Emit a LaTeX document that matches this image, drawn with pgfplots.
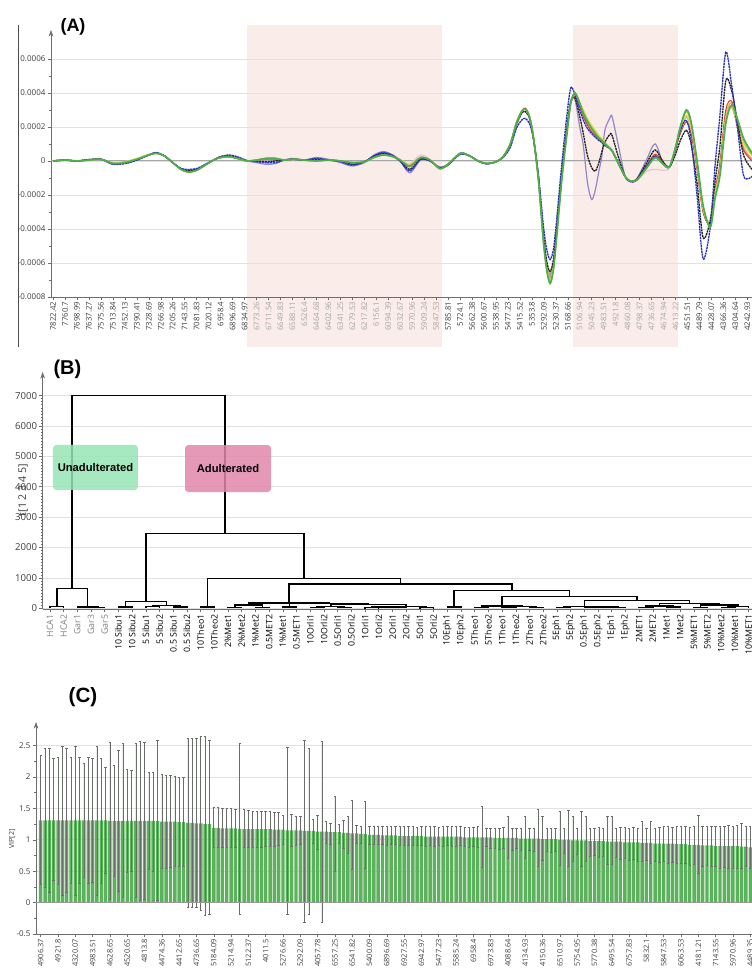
\documentclass[border=0pt]{standalone}
\usepackage{fontspec}
\setmainfont{Liberation Sans}
\newfontfamily\tickfont{Open Sans}
\usepackage{pgfplots}
\usepackage{pgfplotstable}
\pgfplotsset{compat=1.18}
\usetikzlibrary{arrows.meta}
\definecolor{gcol}{RGB}{80,175,75}
\definecolor{lgcol}{RGB}{175,215,95}
\definecolor{ycol}{RGB}{232,222,90}
\definecolor{ocol}{RGB}{240,175,95}
\definecolor{rcol}{RGB}{215,70,60}
\definecolor{pcol}{RGB}{238,190,210}
\definecolor{pucol}{RGB}{145,135,205}
\definecolor{kcol}{RGB}{35,35,35}
\definecolor{bcol}{RGB}{40,50,190}
\definecolor{pinkbg}{RGB}{250,236,232}
\definecolor{gridgray}{RGB}{225,225,225}
\definecolor{axgray}{RGB}{110,110,110}
\definecolor{labgray}{RGB}{60,60,60}
\definecolor{lab2}{RGB}{165,165,165}
\definecolor{vipgreen}{RGB}{92,178,92}
\definecolor{errgray}{RGB}{105,110,105}
\definecolor{boxg}{RGB}{150,228,180}
\definecolor{boxp}{RGB}{225,135,170}
\newcommand{\gl}[1]{\textcolor{lab2}{#1}}

\pgfplotstableread{
x G LG Y O R P PU K B
0 0 0 0 0 0 0 0 0 0
1 0.05 0.05 0.05 0.05 0.05 0.05 0.05 0.05 0.05
2 0 0 0.02 0 0 0 0 0 0
3 0.05 0.05 0.06 0.05 0.05 0.05 0.05 0.08 0.08
4 0.1 0.1 0.1 0.1 0.1 0.1 0.1 0.1 0.1
5 -0.15 -0.12 -0.1 -0.15 -0.15 -0.1 -0.2 -0.15 -0.2
6 -0.1 -0.05 -0.05 -0.1 -0.1 -0.05 -0.1 -0.15 -0.15
7 0.1 0.12 0.15 0.1 0.1 0.1 0.1 0.05 0.05
8 0.35 0.35 0.4 0.35 0.35 0.35 0.35 0.35 0.35
8.6 0.45 0.45 0.45 0.45 0.45 0.45 0.45 0.48 0.5
9.3 0.3 0.3 0.3 0.3 0.3 0.3 0.3 0.3 0.3
10 -0.1 -0.1 -0.1 -0.1 -0.1 -0.1 -0.1 -0.1 -0.1
10.7 -0.5 -0.5 -0.5 -0.5 -0.5 -0.5 -0.5 -0.45 -0.45
11.3 -0.65 -0.65 -0.65 -0.65 -0.65 -0.62 -0.6 -0.55 -0.5
12 -0.55 -0.55 -0.55 -0.55 -0.55 -0.55 -0.5 -0.5 -0.45
12.7 -0.25 -0.25 -0.25 -0.25 -0.25 -0.25 -0.25 -0.25 -0.2
13.4 0.05 0.05 0.05 0.05 0.05 0.05 0.05 0.05 0.05
14 0.2 0.2 0.2 0.2 0.2 0.2 0.2 0.25 0.25
14.7 0.25 0.25 0.25 0.25 0.25 0.25 0.25 0.32 0.35
15.4 0.15 0.15 0.15 0.15 0.15 0.15 0.15 0.2 0.25
16.2 0 0 0 0 0 0 0 0.02 0.02
17 0.05 0.05 0.05 0.05 0.05 0.05 -0.1 0 -0.05
17.8 0.15 0.15 0.15 0.12 0.1 0.1 -0.2 -0.05 -0.1
18.6 0.15 0.15 0.15 0.12 0.1 0.1 -0.15 0 -0.1
19.3 0.05 0.05 0.05 0.05 0.05 0.05 0.05 0.05 0.05
20.1 0.1 0.1 0.1 0.1 0.1 0.1 0.15 0.1 0.1
21 0.05 0.05 0.05 0.05 0.05 0.05 0.05 0.05 0.05
22 0 0 0 0 0.05 0 0.2 0.1 0.15
23 0.05 0.05 0.05 0.05 0.05 0.05 0.1 0.05 0.05
24 0 0 0 0 0 0 -0.1 0 -0.05
25 -0.1 -0.1 -0.1 -0.1 -0.12 -0.05 -0.3 -0.2 -0.25
26 -0.05 -0.05 -0.05 -0.05 -0.05 -0.05 -0.1 -0.05 -0.05
26.8 0.2 0.2 0.2 0.2 0.2 0.25 0.35 0.25 0.3
27.6 0.35 0.35 0.35 0.38 0.4 0.45 0.55 0.45 0.5
28.4 0.25 0.25 0.25 0.25 0.25 0.3 0.35 0.3 0.3
29 0.05 0.05 0.05 0 0 0.1 0 0 0
29.8 -0.3 -0.3 -0.2 -0.3 -0.35 -0.15 -0.7 -0.5 -0.6
30.7 0.2 0.2 0.2 0.2 0.2 0.35 0.05 0.1 0.1
31.5 0.05 0.05 0.05 0.05 0.05 0.1 0 0 0
32.3 -0.45 -0.45 -0.4 -0.45 -0.45 -0.5 -0.35 -0.4 -0.4
33 -0.2 -0.2 -0.2 -0.2 -0.2 -0.2 -0.2 -0.2 -0.25
33.5 0.15 0.15 0.15 0.15 0.15 0.15 0.15 0.15 0.1
34.1 0.45 0.45 0.45 0.45 0.45 0.45 0.5 0.45 0.4
34.8 0.3 0.3 0.3 0.3 0.3 0.3 0.3 0.3 0.3
35.5 0 0 0 0 0 0 0 0 0
36.2 -0.15 -0.15 -0.15 -0.15 -0.15 -0.15 -0.15 -0.15 -0.18
37 -0.05 -0.05 -0.05 -0.05 -0.05 -0.05 -0.05 -0.05 -0.05
37.6 0.25 0.25 0.25 0.25 0.25 0.25 0.25 0.25 0.2
38.2 1.0 1.0 1.0 1.0 1.0 1.0 1.0 0.95 0.8
38.7 2.2 2.2 2.2 2.2 2.25 2.2 2.2 2.1 1.9
39.15 2.9 2.9 2.9 2.9 2.95 2.9 2.9 2.8 2.4
39.45 3.05 3.05 3.05 3.05 3.1 3.05 3.1 2.9 2.5
39.8 2.6 2.6 2.6 2.6 2.65 2.6 2.6 2.5 2.2
40.13 1.4 1.4 1.4 1.4 1.4 1.4 1.4 1.3 1.3
40.55 -1.1 -1.1 -1.1 -1.05 -1.05 -1.0 -1.0 -1.0 -0.8
40.96 -4.7 -4.6 -4.6 -4.5 -4.5 -4.5 -4.5 -4.3 -3.8
41.24 -6.4 -6.3 -6.2 -6.1 -6.2 -6.0 -6.0 -5.9 -5.2
41.52 -7.2 -7.0 -7.0 -6.8 -6.9 -6.7 -6.7 -6.5 -5.8
41.8 -6.4 -6.3 -6.2 -6.1 -6.1 -6.0 -6.0 -5.8 -5.2
42.08 -4.4 -4.3 -4.2 -4.1 -4.1 -4.0 -4.0 -4.0 -3.4
42.5 -1.1 -1.0 -0.9 -0.9 -0.9 -0.8 -0.8 -0.8 -0.2
42.93 1.6 1.7 1.7 1.8 1.8 1.8 1.9 1.9 2.7
43.25 3.4 3.4 3.4 3.4 3.4 3.4 3.5 3.5 4.3
43.6 4.0 4.0 3.9 3.9 3.8 3.9 3.6 3.7 3.9
44.0 3.4 3.4 3.4 3.3 3.2 3.3 2.0 2.6 3.0
44.3 2.8 2.9 3.0 2.7 2.6 2.7 0.9 1.6 2.4
44.65 2.3 2.4 2.5 2.2 2.1 2.2 -1.3 0.3 1.9
45.0 1.9 2.0 2.1 1.8 1.7 1.6 -2.27 -0.4 1.6
45.3 1.6 1.7 1.8 1.55 1.5 1.4 -1.7 -0.6 1.4
45.6 1.35 1.4 1.5 1.3 1.3 1.2 -0.6 -0.1 1.2
45.85 1.2 1.25 1.3 1.15 1.15 1.05 0.3 0.55 1.1
46.1 1.0 1.05 1.1 1.0 1.0 0.9 1.8 1.1 0.9
46.5 0.75 0.8 0.8 0.75 0.8 0.7 2.5 1.55 0.75
46.7 0.6 0.6 0.6 0.6 0.65 0.55 2.6 1.5 0.6
47.2 -0.1 -0.1 -0.1 -0.1 -0.05 -0.15 1.0 0.3 -0.1
47.8 -0.93 -0.93 -0.93 -0.93 -0.93 -0.93 -0.93 -0.93 -0.93
48.3 -1.2 -1.2 -1.2 -1.2 -1.2 -1.2 -1.2 -1.2 -1.25
48.8 -1.1 -1.1 -1.1 -1.1 -1.05 -1.15 -1.0 -1.05 -1.1
49.6 -0.4 -0.4 -0.4 -0.3 -0.25 -0.6 0.1 -0.1 -0.3
50.3 0.2 0.15 0.25 0.35 0.4 -0.5 1.0 0.65 0.3
51.0 -0.2 -0.2 -0.2 -0.15 -0.1 -0.55 -0.2 -0.1 -0.2
51.5 -0.35 -0.35 -0.35 -0.35 -0.35 -0.4 -0.35 -0.35 -0.35
52.0 0.8 0.8 0.8 0.75 0.7 0.75 0.75 0.4 0.7
52.4 2.0 2.0 1.9 1.8 1.6 1.8 1.9 1.2 1.8
52.9 3.0 2.9 2.7 2.6 2.3 2.6 2.6 1.8 2.4
53.3 2.3 2.2 2.0 1.9 1.6 1.9 1.9 1.0 1.2
53.8 0.0 -0.1 -0.2 -0.3 -0.5 -0.3 -0.3 -1.3 -2.0
54.3 -2.6 -2.7 -2.8 -2.9 -3.0 -2.9 -2.9 -4.5 -5.75
54.9 -3.9 -3.8 -3.7 -3.6 -3.7 -3.6 -3.7 -3.5 -3.9
55.3 -2.2 -2.0 -1.9 -1.8 -1.7 -1.8 -1.8 -1.2 -0.3
55.7 -0.9 -0.7 -0.6 -0.4 -0.2 -0.4 -0.4 0.8 2.6
56.2 2.2 2.4 2.5 2.7 3.0 2.6 2.7 4.7 6.4
56.7 3.3 3.2 3.2 3.4 3.5 3.1 3.2 4.1 4.4
57.2 2.4 2.2 2.1 2.0 1.9 1.9 2.0 2.2 1.8
57.7 1.3 1.1 1.0 0.8 0.6 0.7 0.7 0.3 -0.9
58.4 0.45 0.35 0.3 0.1 0.0 0.1 0.1 -0.5 -0.9
}\specA

\pgfplotstableread{
j y ep em
0 1.31 1.03 1.02
1 1.31 1.15 1.06
2 1.31 1.15 1.14
3 1.31 0.98 0.96
4 1.31 1.01 1.02
5 1.31 1.18 1.19
6 1.31 1.15 1.15
7 1.31 1.00 1.00
8 1.31 1.18 1.19
9 1.31 1.00 1.00
10 1.31 0.91 0.90
11 1.31 1.00 1.01
12 1.31 0.99 0.98
13 1.31 1.18 1.19
14 1.31 0.99 1.00
15 1.31 0.85 0.85
16 1.30 1.25 1.24
17 1.30 0.88 0.88
18 1.30 1.12 1.12
19 1.30 1.23 1.22
20 1.30 0.82 0.82
21 1.30 0.80 0.80
22 1.30 1.23 1.22
23 1.30 1.27 1.26
24 1.30 1.25 1.25
25 1.30 0.77 0.77
26 1.30 0.78 0.80
27 1.30 1.28 1.27
28 1.29 0.76 0.75
29 1.29 0.74 0.74
30 1.29 0.73 0.73
31 1.29 0.72 0.72
32 1.28 0.72 0.71
33 1.28 0.72 0.70
34 1.27 1.35 1.34
35 1.27 1.34 1.35
36 1.26 1.35 1.34
37 1.26 1.38 1.39
38 1.25 1.40 1.45
39 1.25 1.34 1.44
40 1.19 0.32 0.31
41 1.19 0.32 0.31
42 1.18 0.32 0.30
43 1.18 0.32 0.30
44 1.18 0.32 0.30
45 1.18 0.30 0.30
46 1.17 1.37 1.35
47 1.17 0.31 0.29
48 1.17 0.30 0.29
49 1.17 0.29 0.29
50 1.17 0.29 0.29
51 1.17 0.29 0.29
52 1.17 0.28 0.28
53 1.17 0.28 0.28
54 1.16 0.28 0.26
55 1.16 0.27 0.25
56 1.16 0.23 0.23
57 1.15 1.33 1.34
58 1.15 0.26 0.26
59 1.15 0.23 0.24
60 1.15 0.22 0.22
61 1.14 1.45 1.46
62 1.14 1.32 1.33
63 1.14 0.18 0.20
64 1.13 0.26 0.28
65 1.13 1.44 1.45
66 1.13 0.16 0.19
67 1.12 0.15 0.19
68 1.12 0.57 0.62
69 1.12 0.13 0.18
70 1.11 0.20 0.25
71 1.11 0.26 0.32
72 1.10 0.53 0.57
73 1.10 0.13 0.16
74 1.09 0.13 0.15
75 1.09 0.52 0.55
76 1.08 0.13 0.15
77 1.08 0.13 0.15
78 1.08 0.13 0.15
79 1.07 0.14 0.14
80 1.07 0.14 0.15
81 1.07 0.14 0.14
82 1.07 0.15 0.14
83 1.06 0.15 0.15
84 1.06 0.15 0.14
85 1.06 0.15 0.15
86 1.06 0.15 0.14
87 1.06 0.14 0.15
88 1.06 0.15 0.14
89 1.05 0.16 0.15
90 1.05 0.16 0.14
91 1.05 0.16 0.15
92 1.05 0.15 0.14
93 1.05 0.16 0.15
94 1.05 0.16 0.14
95 1.05 0.16 0.16
96 1.05 0.16 0.15
97 1.05 0.16 0.14
98 1.04 0.16 0.15
99 1.04 0.16 0.16
100 1.04 0.16 0.15
101 1.04 0.17 0.16
102 1.04 0.50 0.48
103 1.04 0.15 0.15
104 1.04 0.15 0.17
105 1.03 0.16 0.16
106 1.03 0.16 0.18
107 1.03 0.17 0.16
108 1.03 0.35 0.33
109 1.03 0.15 0.20
110 1.03 0.15 0.17
111 1.02 0.16 0.19
112 1.02 0.35 0.32
113 1.02 0.16 0.18
114 1.02 0.16 0.20
115 1.02 0.47 0.45
116 1.01 0.36 0.33
117 1.01 0.17 0.19
118 1.01 0.17 0.21
119 1.01 0.18 0.19
120 1.00 0.46 0.41
121 1.00 0.18 0.22
122 1.00 0.47 0.43
123 0.99 0.39 0.33
124 0.99 0.20 0.22
125 0.99 0.47 0.42
126 0.99 0.39 0.34
127 0.98 0.20 0.24
128 0.98 0.21 0.22
129 0.98 0.22 0.26
130 0.98 0.21 0.24
131 0.97 0.40 0.36
132 0.97 0.40 0.36
133 0.97 0.22 0.25
134 0.97 0.23 0.28
135 0.96 0.24 0.26
136 0.96 0.23 0.29
137 0.96 0.24 0.27
138 0.96 0.23 0.30
139 0.95 0.34 0.30
140 0.95 0.24 0.27
141 0.95 0.34 0.33
142 0.94 0.25 0.28
143 0.94 0.26 0.30
144 0.94 0.27 0.29
145 0.94 0.27 0.31
146 0.94 0.26 0.30
147 0.93 0.28 0.30
148 0.93 0.28 0.31
149 0.93 0.29 0.30
150 0.92 0.28 0.32
151 0.92 0.29 0.31
152 0.92 0.47 0.46
153 0.91 0.30 0.33
154 0.91 0.30 0.32
155 0.91 0.31 0.34
156 0.90 0.31 0.33
157 0.90 0.32 0.35
158 0.90 0.32 0.34
159 0.90 0.33 0.36
160 0.90 0.32 0.35
161 0.90 0.33 0.35
162 0.89 0.37 0.35
163 0.89 0.33 0.32
164 0.88 0.33 0.33
}\vipdata

\begin{document}
\begin{tikzpicture}
% ---------------- (A) ----------------
\begin{axis}[at={(38.25pt,503.25pt)}, anchor=south west, scale only axis,
  width=525.75pt, height=200.25pt,
  xmin=-0.17, xmax=58.39, ymin=-8, ymax=7.7,
  set layers, clip mode=individual,
  axis x line=bottom, axis y line=left,
  x axis line style={-, draw=axgray},
  y axis line style={-{Stealth[length=5pt,width=3.5pt]}, draw=axgray},
  xtick={0,...,58},
  xticklabels={7822.42,7760.7,7698.99,7637.27,7575.56,7513.84,7452.13,7390.41,7328.69,7266.98,7205.26,7143.55,7081.83,7020.12,6958.4,6896.69,6834.97,\gl{6773.26},\gl{6711.54},\gl{6649.83},\gl{6588.11},\gl{6526.4},\gl{6464.68},\gl{6402.96},\gl{6341.25},\gl{6279.53},\gl{6217.82},\gl{6156.1},\gl{6094.39},\gl{6032.67},\gl{5970.96},\gl{5909.24},\gl{5847.53},5785.81,5724.1,5662.38,5600.67,5538.95,5477.23,5415.52,5353.8,5292.09,5230.37,5168.66,\gl{5106.94},\gl{5045.23},\gl{4983.51},\gl{4921.8},\gl{4860.08},\gl{4798.37},\gl{4736.65},\gl{4674.94},\gl{4613.22},4551.51,4489.79,4428.07,4366.36,4304.64,4242.93},
  ytick={-8,-6,-4,-2,0,2,4,6},
  yticklabels={-0.0008,-0.0006,-0.0004,-0.0002,0,0.0002,0.0004,0.0006},
  minor y tick num=1,
  ymajorgrids, grid style={gridgray, line width=0.5pt},
  tick align=outside, major tick length=2.5pt, minor tick length=1.5pt,
  tick style={axgray, line width=0.4pt},
  x tick label style={rotate=90, anchor=east, font=\tickfont\fontsize{5.8}{6}\selectfont, text=labgray, inner sep=1pt},
  y tick label style={font=\tickfont\fontsize{6}{7}\selectfont, text=labgray, inner sep=1.5pt},
]
\begin{pgfonlayer}{axis background}
\fill[pinkbg] (axis cs:16.2,8) rectangle ([yshift=-37.5pt]axis cs:32.5,-8);
\fill[pinkbg] (axis cs:43.4,8) rectangle ([yshift=-37.5pt]axis cs:52.2,-8);
\end{pgfonlayer}
\draw[gray!70, line width=0.8pt] (axis cs:-0.17,0) -- (axis cs:58.39,0);
\addplot[pcol, line width=0.8pt, smooth] table[x=x,y=P]{\specA};
\addplot[pucol, line width=0.9pt, smooth] table[x=x,y=PU]{\specA};
\addplot[ocol, line width=0.9pt, smooth] table[x=x,y=O]{\specA};
\addplot[rcol, line width=0.8pt, smooth] table[x=x,y=R]{\specA};
\addplot[ycol, line width=1pt, smooth] table[x=x,y=Y]{\specA};
\addplot[lgcol, line width=1pt, smooth] table[x=x,y=LG]{\specA};
\addplot[kcol, line width=1pt, smooth, dash pattern=on 1.6pt off 0.5pt] table[x=x,y=K]{\specA};
\addplot[bcol, line width=1pt, smooth, dash pattern=on 1.6pt off 0.5pt] table[x=x,y=B]{\specA};
\addplot[gcol, line width=1.3pt, smooth] table[x=x,y=G]{\specA};
\end{axis}

% ---------------- (B) ----------------
\begin{axis}[at={(32pt,269.25pt)}, anchor=south west, scale only axis,
  width=531.98pt, height=177.75pt,
  xmin=-0.53, xmax=51.24, ymin=-25, ymax=7778,
  axis x line=bottom, axis y line=left,
  x axis line style={-, draw=axgray},
  y axis line style={-{Stealth[length=5pt,width=3.5pt]}, draw=axgray},
  xtick={0,...,51},
  xticklabels={\textcolor{gray}{HCA1},\textcolor{gray}{HCA2},\textcolor{gray}{Gar1},\textcolor{gray}{Gar3},\textcolor{gray}{Gar5},10 Sibu1,10 Sibu2,5 Sibu1,5 Sibu2,0.5 Sibu1,0.5 Sibu2,10Theo1,10Theo2,2\%Met1,2\%Met2,1\%Met2,0.5MET2,1\%Met1,0.5MET1,10Orli1,10Orli2,0.5Orli1,0.5Orli2,1Orli1,1Orli2,2Orli1,2Orli2,5Orli1,5Orli2,10Eph1,10Eph2,5Theo1,5Theo2,1Theo1,1Theo2,2Theo1,2Theo2,5Eph1,5Eph2,0.5Eph1,0.5Eph2,1Eph1,1Eph2,2MET1,2MET2,1Met1,1Met2,5\%MET1,5\%MET2,10\%Met2,10\%Met1,10\%MET1},
  ytick={0,1000,2000,3000,4000,5000,6000,7000},
  yticklabels={0,1000,2000,3000,4000,5000,6000,7000},
  minor y tick num=9,
  ymajorgrids, grid style={gridgray, line width=0.5pt},
  tick align=outside, major tick length=2.5pt, minor tick length=1.2pt,
  tick style={axgray, line width=0.4pt},
  x tick label style={rotate=90, anchor=east, font=\tickfont\fontsize{6.6}{7}\selectfont, text=black, inner sep=1.5pt},
  y tick label style={font=\tickfont\fontsize{7.2}{8}\selectfont, text=labgray, inner sep=1.5pt},
  unbounded coords=jump,
]
\addplot[black, line width=1.1pt, mark=none] coordinates {
(0,0)(0,50)(1,50)(1,0) (0,nan)
(3,0)(3,30)(4,30)(4,0) (0,nan)
(2,0)(2,45)(3.5,45)(3.5,30) (0,nan)
(0.5,50)(0.5,658)(2.75,658)(2.75,45) (0,nan)
(5,0)(5,40)(6,40)(6,0) (0,nan)
(7,0)(7,50)(8,50)(8,0) (0,nan)
(9,0)(9,40)(10,40)(10,0) (0,nan)
(7.5,50)(7.5,85)(9.5,85)(9.5,40) (0,nan)
(5.5,40)(5.5,220)(8.5,220)(8.5,85) (0,nan)
(11,0)(11,40)(12,40)(12,0) (0,nan)
(13,0)(13,25)(14,25)(14,0) (0,nan)
(15,0)(15,30)(16,30)(16,0) (0,nan)
(13.5,25)(13.5,100)(15.5,100)(15.5,30) (0,nan)
(17,0)(17,35)(18,35)(18,0) (0,nan)
(19,0)(19,30)(20,30)(20,0) (0,nan)
(21,0)(21,25)(22,25)(22,0) (0,nan)
(19.5,30)(19.5,60)(21.5,60)(21.5,25) (0,nan)
(23,0)(23,20)(24,20)(24,0) (0,nan)
(25,0)(25,25)(26,25)(26,0) (0,nan)
(27,0)(27,20)(28,20)(28,0) (0,nan)
(23.5,20)(23.5,40)(25.5,40)(25.5,25) (0,nan)
(24.5,40)(24.5,50)(27.5,50)(27.5,20) (0,nan)
(20.5,60)(20.5,130)(26,130)(26,50) (0,nan)
(17.5,35)(17.5,150)(23.25,150)(23.25,130) (0,nan)
(14.5,100)(14.5,165)(20.375,165)(20.375,150) (0,nan)
(29,0)(29,40)(30,40)(30,0) (0,nan)
(31,0)(31,30)(32,30)(32,0) (0,nan)
(33,0)(33,35)(34,35)(34,0) (0,nan)
(35,0)(35,25)(36,25)(36,0) (0,nan)
(33.5,35)(33.5,50)(35.5,50)(35.5,25) (0,nan)
(31.5,30)(31.5,75)(34.5,75)(34.5,50) (0,nan)
(37,0)(37,30)(38,30)(38,0) (0,nan)
(39,0)(39,25)(40,25)(40,0) (0,nan)
(41,0)(41,30)(42,30)(42,0) (0,nan)
(39.5,25)(39.5,45)(41.5,45)(41.5,30) (0,nan)
(37.5,30)(37.5,60)(40.5,60)(40.5,45) (0,nan)
(43,0)(43,30)(44,30)(44,0) (0,nan)
(45,0)(45,35)(46,35)(46,0) (0,nan)
(43.5,30)(43.5,75)(45.5,75)(45.5,35) (0,nan)
(47,0)(47,25)(48,25)(48,0) (0,nan)
(49,0)(49,30)(50,30)(50,0) (0,nan)
(49.5,30)(49.5,60)(51,60)(51,0) (0,nan)
(47.5,25)(47.5,100)(50.25,100)(50.25,60) (0,nan)
(44.5,75)(44.5,164)(48.875,164)(48.875,100) (0,nan)
(39,60)(39,250)(46.69,250)(46.69,164) (0,nan)
(33,75)(33,381)(42.84,381)(42.84,250) (0,nan)
(29.5,40)(29.5,592)(37.92,592)(37.92,381) (0,nan)
(17.44,165)(17.44,800)(33.71,800)(33.71,592) (0,nan)
(11.5,40)(11.5,980)(25.58,980)(25.58,800) (0,nan)
(7.0,220)(7.0,2467)(18.54,2467)(18.54,980) (0,nan)
(1.625,658)(1.625,7000)(12.77,7000)(12.77,2467)
};
\end{axis}

% ---------------- (C) ----------------
\begin{axis}[at={(27pt,25.5pt)}, anchor=south west, scale only axis,
  width=537pt, height=159pt,
  xmin=-1.09, xmax=164.4, ymin=-0.5, ymax=2.875,
  set layers,
  axis x line=bottom, axis y line=left,
  x axis line style={-, draw=axgray},
  y axis line style={-{Stealth[length=5pt,width=3.5pt]}, draw=axgray},
  xtick={0,4,...,164},
  xticklabels={4906.37,4921.8,4320.07,4983.51,4628.65,4520.65,4813.8,4474.36,4412.65,4736.65,5184.09,5214.94,5122.37,4011.5,5276.66,5292.09,4057.78,6557.25,6541.82,5400.09,6896.69,6927.55,6942.97,5477.23,5585.24,6958.4,6973.83,4088.64,4134.93,4150.36,6510.97,5754.95,5770.38,6495.54,6757.83,5832.1,5847.53,6063.53,4181.21,7143.55,5970.96,4489.35},
  ytick={-0.5,0,0.5,1,1.5,2,2.5},
  yticklabels={-0.5,0,0.5,1,1.5,2,2.5},
  minor y tick num=1,
  ymajorgrids, grid style={gridgray, line width=0.5pt},
  tick align=outside, major tick length=2.5pt, minor tick length=1.5pt,
  tick style={axgray, line width=0.4pt},
  x tick label style={rotate=90, anchor=east, font=\tickfont\fontsize{5.6}{6}\selectfont, text=labgray, inner sep=1.2pt},
  y tick label style={font=\tickfont\fontsize{6}{7}\selectfont, text=labgray, inner sep=1.5pt},
]
\addplot[ybar, bar width=2.6pt, fill=vipgreen, draw=none,
  error bars/.cd, y dir=both, y explicit,
  error bar style={line width=0.45pt, errgray},
  error mark options={rotate=90, mark size=0.9pt, line width=0.45pt, errgray}]
  table[x=j, y=y, y error plus=ep, y error minus=em]{\vipdata};
\draw[gray!80, line width=0.5pt] (axis cs:-1.09,0) -- (axis cs:164.4,0);
\end{axis}

% ---------------- annotations ----------------
\draw[gray!60!black, line width=0.7pt] (13.5pt,707.25pt) -- (13.5pt,465.75pt);
\node[font=\bfseries\fontsize{13.5}{14}\selectfont] at (54.75pt,706.1pt) {(A)};
\node[font=\bfseries\fontsize{15}{16}\selectfont] at (50.6pt,449.25pt) {(B)};
\node[font=\bfseries\fontsize{15.5}{16}\selectfont] at (62.25pt,202.9pt) {(C)};
\node[rotate=90, font=\tickfont\fontsize{8}{9}\selectfont, text=labgray] at (17.25pt,358.5pt) {t[1 2 3 4 5]};
\node[rotate=90, font=\tickfont\fontsize{5.3}{6}\selectfont, text=labgray] at (9pt,96.75pt) {VIP[2]};
\node[fill=boxg, fill opacity=0.85, text opacity=1, rounded corners=2.5pt, minimum width=63.75pt, minimum height=33.75pt, font=\bfseries\fontsize{8.4}{9}\selectfont] at (71.6pt,375.4pt) {Unadulterated};
\node[fill=boxp, fill opacity=0.85, text opacity=1, rounded corners=2.5pt, minimum width=64.5pt, minimum height=35.25pt, font=\bfseries\fontsize{8.4}{9}\selectfont] at (171pt,374.6pt) {Adulterated};
\pgfresetboundingbox
\path[use as bounding box] (0,0) rectangle (564pt,726pt);
\end{tikzpicture}
\end{document}
